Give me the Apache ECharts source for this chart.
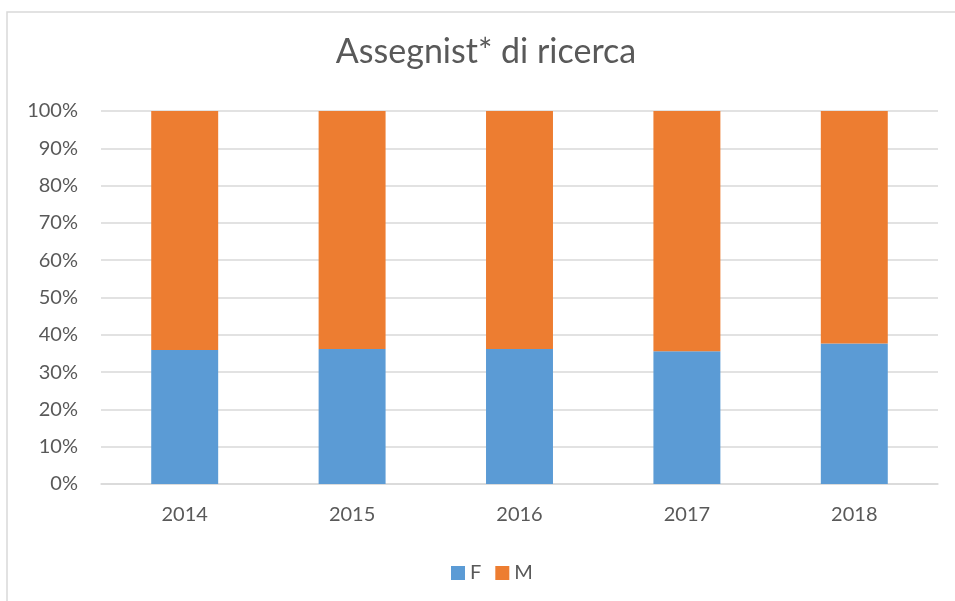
<!DOCTYPE html>
<html>
<head>
<meta charset="utf-8">
<script src="https://cdn.jsdelivr.net/npm/echarts@6/dist/echarts.min.js"></script>
<style>
  html, body { margin: 0; padding: 0; background: #fff; }
  #chart { width: 955px; height: 601px; }
</style>
</head>
<body>
<div id="chart"></div>
<script>
// anni
const years = ['2014', '2015', '2016', '2017', '2018']
// quote percentuali F / M
const femmine = [35.9, 36.2, 36.2, 35.6, 37.7]
const maschi = [64.1, 63.8, 63.8, 64.4, 62.3]
const yTicks = [0, 10, 20, 30, 40, 50, 60, 70, 80, 90, 100]

const chart = echarts.init(document.getElementById('chart'))
const font = 'Lato, "Liberation Sans", sans-serif'

const option = {
  animation: false,
  backgroundColor: '#fff',
  textStyle: { fontFamily: font },
  graphic: [
    {
      type: 'rect',
      shape: { x: 7, y: 12, width: 1000, height: 650 },
      style: { fill: 'none', stroke: '#d9d9d9', lineWidth: 1.5 },
      silent: true
    }
  ],
  title: {
    text: 'Assegnist* di ricerca',
    left: 481,
    top: 30,
    textAlign: 'center',
    textStyle: { fontFamily: font, fontSize: 34, fontWeight: 'normal', color: '#595959' }
  },
  legend: {
    data: ['F', 'M'],
    left: 446,
    top: 558,
    itemWidth: 14,
    itemHeight: 14,
    itemGap: 14,
    icon: 'rect',
    textStyle: { fontFamily: font, fontSize: 20, color: '#595959' }
  },
  grid: { left: 101, right: 17, top: 111, bottom: 117, containLabel: false },
  xAxis: {
    type: 'category',
    data: years,
    axisLine: { lineStyle: { color: '#d9d9d9', width: 1.5 } },
    axisTick: { show: false },
    axisLabel: { fontFamily: font, fontSize: 20, color: '#595959', margin: 21 }
  },
  yAxis: {
    type: 'value',
    min: 0,
    max: 100,
    interval: 10,
    axisLine: { show: false },
    axisTick: { show: false },
    splitLine: { lineStyle: { color: '#d9d9d9', width: 1.5 } },
    axisLabel: {
      fontFamily: font, fontSize: 20, color: '#595959', margin: 23,
      formatter: v => yTicks.includes(v) ? v + '%' : ''
    }
  },
  series: [
    {
      name: 'F',
      type: 'bar',
      stack: 'tot',
      barWidth: '40%',
      data: femmine,
      itemStyle: { color: '#5b9bd5' }
    },
    {
      name: 'M',
      type: 'bar',
      stack: 'tot',
      barWidth: '40%',
      data: maschi,
      itemStyle: { color: '#ed7d31' }
    }
  ]
}
chart.setOption(option)
</script>
</body>
</html>
